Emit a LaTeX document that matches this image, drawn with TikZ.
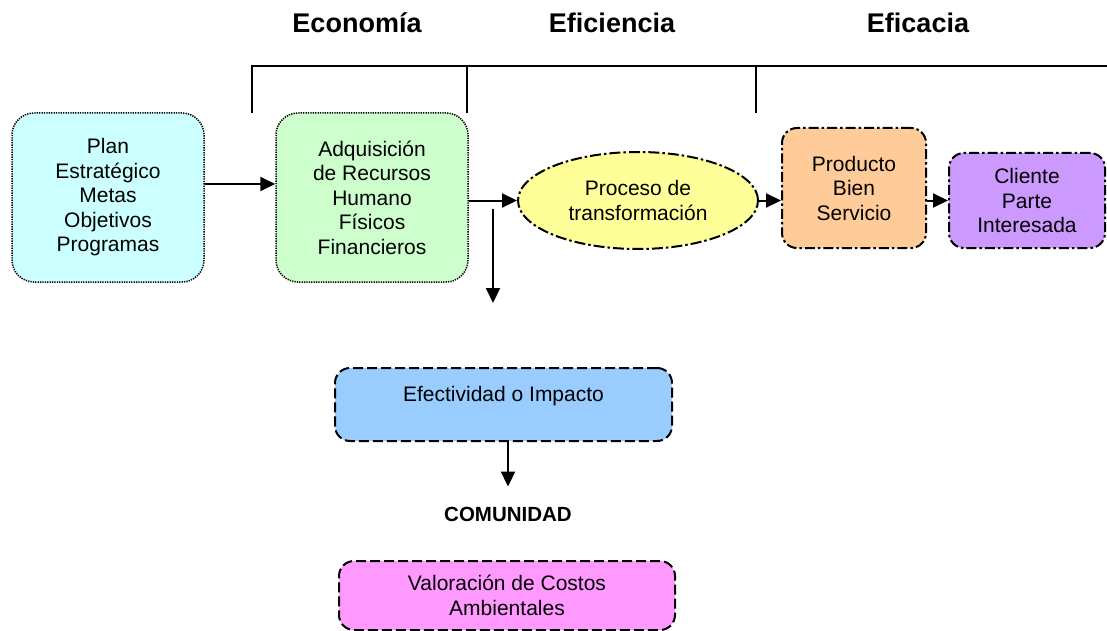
\documentclass[tikz,border=0pt]{standalone}
\usepackage{fontspec}
\setmainfont{Liberation Sans}
\usetikzlibrary{shapes.geometric,arrows.meta}
\definecolor{cplan}{HTML}{CCFFFF}
\definecolor{cadq}{HTML}{CCFFCC}
\definecolor{cproc}{HTML}{FFFF99}
\definecolor{cprod}{HTML}{FFCC99}
\definecolor{ccli}{HTML}{CC99FF}
\definecolor{ceff}{HTML}{99CCFF}
\definecolor{cval}{HTML}{FF99FF}
\tikzset{
  body/.style={font=\fontsize{21}{24.5}\selectfont, align=center, inner sep=0pt},
  dotbox/.style={body, draw, line width=1.5pt, dash pattern=on 1.3pt off 1.1pt, rounded corners=22pt},
  dashdotbox/.style={body, draw, line width=2pt, dash pattern=on 10pt off 3pt on 2.5pt off 3pt, rounded corners=15pt},
  dashbox/.style={body, draw, line width=2pt, dash pattern=on 10pt off 4pt, rounded corners=15pt},
  arr/.style={line width=2pt, -{Triangle[length=15pt,width=14pt]}},
  bracket/.style={line width=1.6pt},
  heading/.style={font=\bfseries\fontsize{27}{30}\selectfont, inner sep=0pt, anchor=base}
}
\begin{document}
\begin{tikzpicture}[x=1pt,y=-1pt]
\useasboundingbox (0,0) rectangle (1107,631);
% headings
\node[heading] (h1) at (357,33) {Economía};
\node[heading] (h2) at (612,33) {Eficiencia};
\node[heading] (h3) at (918,33) {Eficacia};
% bracket
\coordinate (b0) at (252,113);
\coordinate (b1) at (252,66);
\coordinate (b2) at (1107,66);
\coordinate (t1a) at (467,66);
\coordinate (t1b) at (467,113);
\coordinate (t2a) at (756,66);
\coordinate (t2b) at (756,113);
\draw[bracket] (b0) -- (b1) -- (b2);
\draw[bracket] (t1a) -- (t1b);
\draw[bracket] (t2a) -- (t2b);
% boxes
\node[dotbox, fill=cplan, minimum width=192pt, minimum height=169pt] (plan) at (108,197.5)
  {Plan\\Estratégico\\Metas\\Objetivos\\Programas};
\node[dotbox, fill=cadq, minimum width=192pt, minimum height=169pt] (adq) at (372,197.5)
  {Adquisición\\de Recursos\\Humano\\Físicos\\Financieros};
\node[body, ellipse, draw, fill=cproc, line width=2pt, dash pattern=on 11pt off 3pt on 2.5pt off 3pt,
  minimum width=240pt, minimum height=97pt] (proc) at (638,200.5) {Proceso de\\transformación};
\node[dashdotbox, fill=cprod, minimum width=144pt, minimum height=120pt] (prod) at (854,188)
  {Producto\\Bien\\Servicio};
\node[dashdotbox, fill=ccli, minimum width=156pt, minimum height=95pt] (cli) at (1027,200.5)
  {Cliente\\Parte\\Interesada};
\node[dashbox, fill=ceff, minimum width=337pt, minimum height=73pt] (eff) at (503.5,404.5) {};
\node[body] (efft) at ([yshift=8pt]eff.center) {Efectividad o Impacto};
\node[font=\bfseries\fontsize{20.5}{24}\selectfont, inner sep=0pt] (com) at (508,514) {COMUNIDAD};
\node[dashbox, fill=cval, minimum width=336pt, minimum height=69pt] (val) at (507,595.5)
  {Valoración de Costos\\Ambientales};
% connectors
\draw[arr] ([yshift=13.5pt]plan.east) -- ([yshift=13.5pt]adq.west);
\draw[arr] ([yshift=-3pt]adq.east) -- (proc.west);
\coordinate (d1) at (493,209);
\coordinate (d2) at (493,303);
\draw[arr] (d1) -- (d2);
\draw[arr] (proc.east) -- (proc.east -| prod.west);
\draw[arr] (cli.west -| prod.east) -- (cli.west);
\draw[arr] (eff.south -| com.north) -- ([yshift=20pt]com.north);
\end{tikzpicture}
\end{document}
